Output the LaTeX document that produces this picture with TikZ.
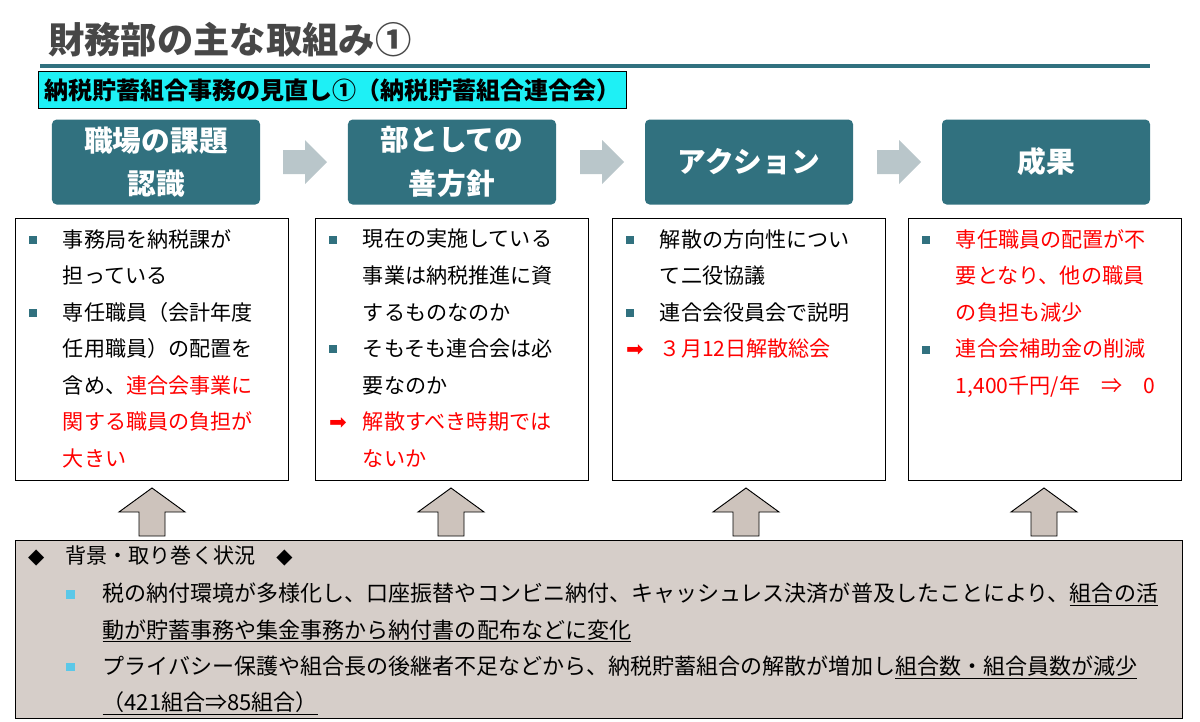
\documentclass[tikz,border=0pt]{standalone}
\usepackage{fontspec}
\setmainfont{Noto Sans CJK JP}
\newfontfamily\symfont{DejaVu Sans}
\usetikzlibrary{positioning}
\definecolor{headteal}{HTML}{31717F}
\definecolor{arrgray}{HTML}{B9C6CA}
\definecolor{upbrown}{HTML}{CDC3BC}
\definecolor{backbox}{HTML}{D6CEC9}
\definecolor{skyblue}{HTML}{5BC8E8}
\definecolor{subcyan}{HTML}{1EF0F5}
\tikzset{head/.style={draw=none,fill=headteal,rounded corners=4pt,minimum width=6.24cm,minimum height=2.55cm,text=white,align=center,font=\fontsize{24.5}{37}\selectfont\bfseries},
         content/.style={draw,thick,minimum width=8.2cm,minimum height=7.86cm,anchor=north west},
         body/.style={anchor=north west,align=left,font=\fontsize{18}{31.2}\selectfont,inner sep=0pt},
         step arrow/.style={fill=arrgray},
         up arrow/.style={draw,thick,fill=upbrown}
}
\newcommand{\bl}{\makebox[1.6em][l]{\textcolor{headteal}{\rule[0.15em]{0.38em}{0.38em}}}}
\newcommand{\ind}{\hspace*{1.6em}}
\newcommand{\ra}{\makebox[1.6em][l]{\textcolor{red}{\symfont ➡}}}
\newcommand{\bb}{\makebox[1.65em][l]{\textcolor{skyblue}{\rule[0.15em]{0.38em}{0.38em}}}}
\begin{document}
\begin{tikzpicture}[x=0.03cm,y=-0.03cm]
  \useasboundingbox (0,0) rectangle (1200,721);
  % title
  \node[anchor=west,inner sep=0pt,text=black!72,font=\fontsize{31}{34}\selectfont\bfseries] (title) at (48,40) {財務部の主な取組み①};
  \draw[headteal,line width=3pt] (40,66) -- (1150,66);
  \node[draw,thick,fill=subcyan,anchor=west,inner xsep=5pt,minimum height=1.1cm,font=\fontsize{20.5}{23}\selectfont\bfseries] (sub) at (38,90) {納税貯蓄組合事務の見直し①（納税貯蓄組合連合会）};
  % headers
  \node[head] (h1) at (156,162) {職場の課題\\認識};
  \node[head] (h2) at (452,162) {部としての\\善方針};
  \node[head] (h3) at (749,162) {アクション};
  \node[head] (h4) at (1046,162) {成果};
  \foreach \x/\n in {283/a1,580/a2,877/a3}
    \fill[step arrow] (\x,150) -- ++(22,0) -- ++(0,-10) -- ++(22,22) -- ++(-22,22) -- ++(0,-10) -- ++(-22,0) -- cycle;
  % contents
  \node[content] (c1) at (15,218) {};
  \node[content] (c2) at (315,218) {};
  \node[content] (c3) at (612,218) {};
  \node[content] (c4) at (908,218) {};
  \node[body] (t1) at (29,229) {\bl 事務局を納税課が\\\ind 担っている\\\bl 専任職員（会計年度\\\ind 任用職員）の配置を\\\ind 含め、\textcolor{red}{連合会事業に}\\\ind \textcolor{red}{関する職員の負担が}\\\ind \textcolor{red}{大きい}};
  \node[body] (t2) at (329,229) {\bl 現在の実施している\\\ind 事業は納税推進に資\\\ind するものなのか\\\bl そもそも連合会は必\\\ind 要なのか\\\ra\textcolor{red}{解散すべき時期では}\\\ind \textcolor{red}{ないか}};
  \node[body] (t3) at (626,229) {\bl 解散の方向性につい\\\ind て二役協議\\\bl 連合会役員会で説明\\\ra\textcolor{red}{３月12日解散総会}};
  \node[body] (t4) at (922,229) {\bl \textcolor{red}{専任職員の配置が不}\\\ind \textcolor{red}{要となり、他の職員}\\\ind \textcolor{red}{の負担も減少}\\\bl \textcolor{red}{連合会補助金の削減}\\\ind \textcolor{red}{1,400千円/年\quad ⇒\quad 0}};
  % up arrows
  \foreach \x in {152,451,746,1044}
    \draw[up arrow] (\x,488) -- ++(33,24) -- ++(-20,0) -- ++(0,24) -- ++(-26,0) -- ++(0,-24) -- ++(-20,0) -- cycle;
  % background
  \node[draw,thick,fill=backbox,anchor=north west,minimum width=35.01cm,minimum height=5.34cm] (bg) at (15,540) {};
  \node[body] (bt) at (28,546) {{\symfont ◆}\quad 背景・取り巻く状況\quad {\symfont ◆}};
  \node[body,anchor=north west,font=\fontsize{18.8}{31}\selectfont] (bx) at (66,583) {\bb 税の納付環境が多様化し、口座振替やコンビニ納付、キャッシュレス決済が普及したことにより、\underline{組合の活}\\\hspace*{1.65em}\underline{動が貯蓄事務や集金事務から納付書の配布などに変化}\\\bb プライバシー保護や組合長の後継者不足などから、納税貯蓄組合の解散が増加し\underline{組合数・組合員数が減少}\\\hspace*{1.65em}\underline{（421組合⇒85組合）}};
\end{tikzpicture}
\end{document}
